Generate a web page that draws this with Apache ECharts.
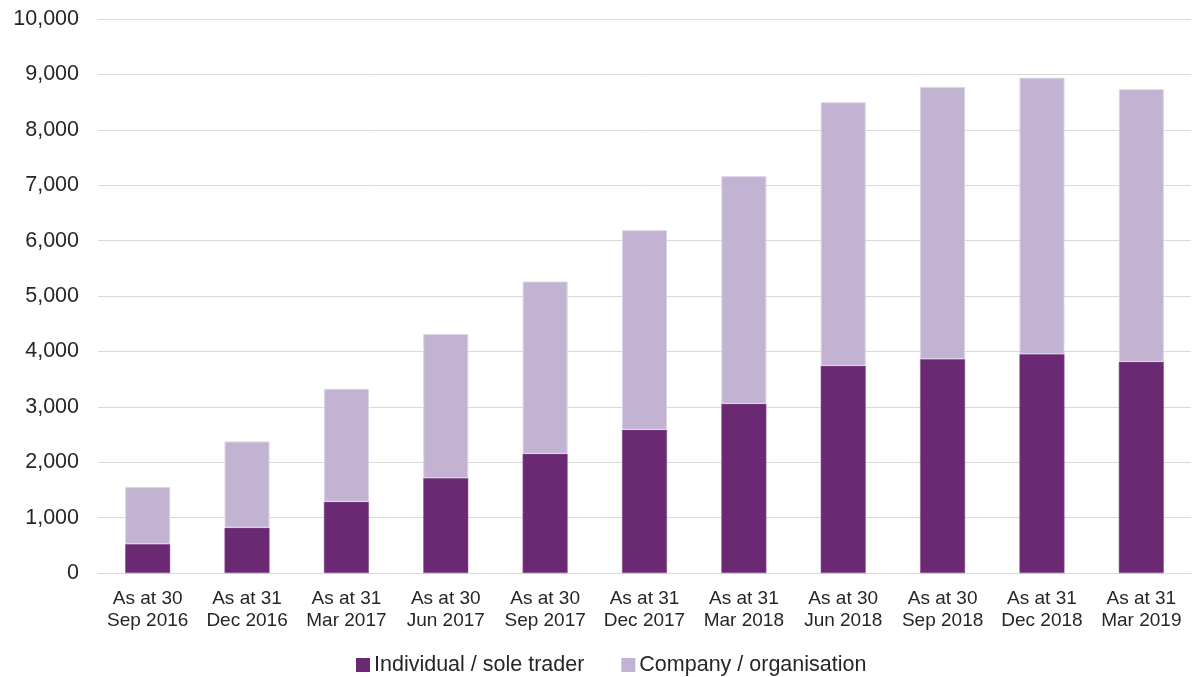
<!DOCTYPE html>
<html>
<head>
<meta charset="utf-8">
<script src="https://cdn.jsdelivr.net/npm/echarts@6/dist/echarts.min.js"></script>
<style>html,body{margin:0;padding:0;background:#fff;}#c{width:1198px;height:677px;}</style>
</head>
<body>
<div id="c"></div>
<script>
const categories = [
  'As at 30\nSep 2016', 'As at 31\nDec 2016', 'As at 31\nMar 2017', 'As at 30\nJun 2017',
  'As at 30\nSep 2017', 'As at 31\nDec 2017', 'As at 31\nMar 2018', 'As at 30\nJun 2018',
  'As at 30\nSep 2018', 'As at 31\nDec 2018', 'As at 31\nMar 2019'
];
const individual = [523, 817, 1286, 1714, 2152, 2585, 3054, 3740, 3861, 3951, 3812];
const company = [1028, 1557, 2039, 2598, 3109, 3603, 4108, 4757, 4912, 4990, 4920];
const seriesNames = ['Individual / sole trader', 'Company / organisation'];

const chart = echarts.init(document.getElementById('c'));
const font = 'Liberation Sans, Arial, sans-serif';
chart.setOption({
  animation: false,
  textStyle: { fontFamily: font },
  grid: { left: 98, right: 7, top: 19, bottom: 104, containLabel: false },
  legend: {
    bottom: 1, left: 356, padding: 0, itemWidth: 14, itemHeight: 14, itemGap: 37,
    icon: 'rect',
    itemStyle: { borderWidth: 0 },
    textStyle: { fontSize: 21.5, color: '#262626', fontFamily: font, padding: [0, 0, 0, -1] },
    data: seriesNames
  },
  xAxis: {
    type: 'category', data: categories,
    axisTick: { show: false },
    axisLine: { lineStyle: { color: '#d9d9d9', width: 1 } },
    axisLabel: { color: '#262626', fontSize: 19, lineHeight: 22, margin: 15, interval: 0, fontFamily: font }
  },
  yAxis: {
    type: 'value', min: 0, max: 10000, interval: 1000,
    axisLine: { show: false }, axisTick: { show: false },
    splitLine: { lineStyle: { color: '#d9d9d9', width: 1 } },
    axisLabel: {
      color: '#262626', fontSize: 21.5, margin: 19, fontFamily: font,
      formatter: v => v.toLocaleString('en-US')
    }
  },
  series: [
    { name: seriesNames[0], type: 'bar', stack: 'a', data: individual, barWidth: 45,
      itemStyle: { color: '#6b2974', borderColor: '#8a5a92', borderWidth: 0.5 } },
    { name: seriesNames[1], type: 'bar', stack: 'a', data: company, barWidth: 45,
      itemStyle: { color: '#c1b3d1', borderColor: '#dcd3e6', borderWidth: 1 } }
  ]
});
</script>
</body>
</html>
